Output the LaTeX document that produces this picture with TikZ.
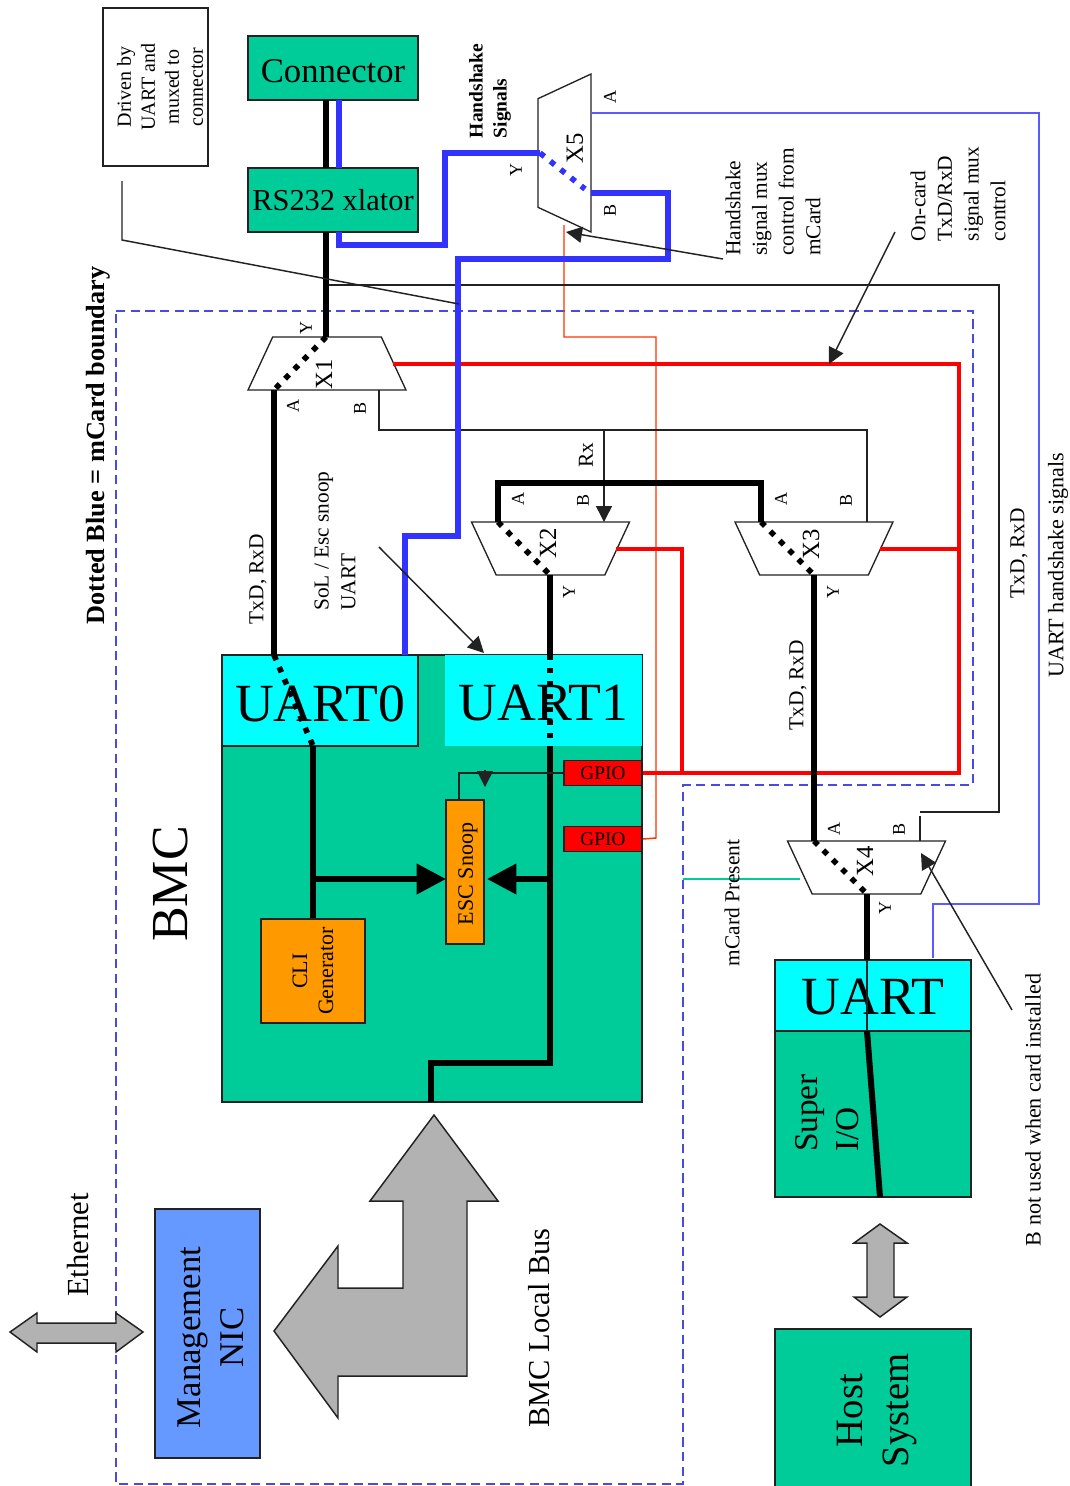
\documentclass[tikz,border=0pt]{standalone}
\usepackage{fontspec}
\setmainfont{Liberation Serif}
\usetikzlibrary{arrows.meta,shapes.geometric}
\definecolor{bmcgreen}{HTML}{00CC99}
\definecolor{cliorange}{HTML}{FF9900}
\definecolor{nicblue}{HTML}{6699FF}
\definecolor{uartcyan}{HTML}{00FFFF}
\definecolor{busblue}{HTML}{3333FF}
\definecolor{thinblue}{HTML}{5A5AFF}
\definecolor{edgeblue}{HTML}{4A4ADD}
\definecolor{thinred}{HTML}{FF3300}
\definecolor{shapegray}{HTML}{B2B2B2}
\definecolor{edgeline}{HTML}{222222}
\newcommand{\lowered}[2]{\raisebox{-#1}[\height][\depth]{#2}}
\tikzset{
  boxsize/.code 2 args={\pgfkeysalso{minimum width=#1*0.75pt, minimum height=#2*0.75pt}},
  rotsize/.code 2 args={\pgfkeysalso{rotate=90, minimum width=#2*0.75pt, minimum height=#1*0.75pt}}
}
\begin{document}
\begin{tikzpicture}[
  x=0.75pt, y=-0.75pt,
  box/.style={draw=edgeline, line width=1.1pt, inner sep=0pt, align=center},
  grn/.style={box, fill=bmcgreen},
  uartbox/.style={box, fill=uartcyan, font=\fontsize{40.3}{44}\selectfont},
  orng/.style={box, fill=cliorange, font=\fontsize{16.5}{19.5}\selectfont},
  gpiobox/.style={box, fill=red, font=\fontsize{14.5}{16}\selectfont},
  mux/.style={trapezium, draw=edgeline, line width=1pt, inner sep=0pt,
              trapezium left angle=63.4, trapezium right angle=63.4,
              trapezium stretches=true, minimum width=158*0.75pt, minimum height=53*0.75pt},
  lab/.style={rotate=90, align=center, inner sep=0pt, font=\fontsize{16}{20}\selectfont},
  lableft/.style={lab, align=left},
  pin/.style={rotate=90, inner sep=0pt, font=\fontsize{13.5}{15}\selectfont},
  muxname/.style={rotate=90, inner sep=0pt, font=\fontsize{18.5}{20}\selectfont},
  big/.style={rotate=90, align=center, inner sep=0pt},
  bk/.style={line width=4.5pt, black},
  dots/.style={line width=4.2pt, dash pattern=on 4.2pt off 5.7pt},
  bl/.style={line width=4.2pt, busblue},
  rd/.style={line width=2.7pt, red},
  thinln/.style={line width=1.1pt, edgeline},
  arr/.style={thinln, -{Triangle[length=12pt,width=12pt]}},
  bigarr/.style={bk, -{Triangle[length=22pt,width=22pt]}},
  block/.style={draw=edgeline, line width=1.1pt, fill=shapegray}
]
\path[use as bounding box, clip] (0,0) rectangle (1070,1486);

\draw[edgeblue, line width=1.1pt, dashed, dash pattern=on 7pt off 4pt]
  (116,311) -- (973,311) -- (973,785) -- (683,785) -- (683,1484) -- (116,1484) -- cycle;

\node[grn, boxsize={170}{64}, font=\fontsize{26}{28}\selectfont] (conn) at (333,68) {\lowered{2.2pt}{Connector}};
\node[grn, boxsize={170}{64}, font=\fontsize{22.8}{26}\selectfont] (xlat) at (333,200) {RS232 xlator};
\node[box, rotsize={105}{158}] (drv) at (155.5,87) {};
\node[big, font=\fontsize{15}{18}\selectfont] (drvt) at (160,87) {Driven by\\UART and\\muxed to\\connector};

\node[grn, boxsize={420}{447}] (bmc) at (432,878.5) {};
\node[uartbox, boxsize={196}{91}] (uart0) at (320,700.5) {\lowered{2.2pt}{UART0}};
\node[uartbox, draw=none, boxsize={197}{91}] (uart1) at (543.5,700.5) {\lowered{2.2pt}{UART1}};
\node[gpiobox, boxsize={78}{25}] (gpioa) at (603,773) {GPIO};
\node[gpiobox, boxsize={78}{25}] (gpiob) at (603,839) {GPIO};
\node[orng, rotsize={38}{144}] (esc) at (465,872) {\kern-3pt\lowered{2.2pt}{ESC Snoop}};
\node[orng, rotsize={104}{104}] (cli) at (313,971) {CLI\\Generator};

\node[uartbox, boxsize={196}{71}] (uart2) at (873,995.5) {\lowered{1.5pt}{UART}};
\node[grn, rotsize={196}{166}] (sio) at (873,1114) {};
\node[big, align=left, font=\fontsize{25}{31}\selectfont] (siot) at (827,1113) {Super\\I/O};
\node[grn, rotsize={196}{161}] (host) at (873,1409.5) {};
\node[big, font=\fontsize{29}{35}\selectfont] (hostt) at (877,1410.5) {Host\\System};
\node[box, fill=nicblue, rotsize={105}{249}] (nic) at (207.5,1333.5) {};
\node[big, font=\fontsize{26}{32}\selectfont] (nict) at (210.5,1337.5) {Management\\NIC};

\node[mux] (x1) at (327,363.5) {\phantom{XX}};
\node[mux, rotate=180] (x2) at (550.5,548.5) {\phantom{XX}};
\node[mux, rotate=180] (x3) at (814,548.5) {\phantom{XX}};
\node[mux, rotate=180] (x4) at (866.5,867.5) {\phantom{XX}};
\node[mux, rotate=90] (x5) at (564.5,153) {\phantom{XX}};

\coordinate (connk) at (326,100);
\coordinate (xlatk) at (326,168);
\coordinate (connb) at (339,100);
\coordinate (xlatb) at (339,168);
\coordinate (xlatkb) at (326,232);
\coordinate (xlatbb) at (339,232);
\coordinate (x1y) at (326,337);
\coordinate (x1a) at (274,390);
\coordinate (x1b) at (379,390);
\coordinate (x1s) at (393,364);
\coordinate (x2a) at (498,522);
\coordinate (x2b) at (604,522);
\coordinate (x2y) at (550,575);
\coordinate (x2s) at (616,549);
\coordinate (x3a) at (761,522);
\coordinate (x3b) at (867,522);
\coordinate (x3y) at (814,575);
\coordinate (x3s) at (880,549);
\coordinate (x4a) at (814,841);
\coordinate (x4b) at (920,841);
\coordinate (x4y) at (867,894);
\coordinate (x4s) at (800,879);
\coordinate (x5y) at (540,153);
\coordinate (x5b) at (591,193);
\coordinate (x5a) at (591,113);
\coordinate (x5d) at (585,189);
\coordinate (x5s) at (564,225);
\coordinate (rxj) at (604,430);
\coordinate (u0a) at (274,655);
\coordinate (u0b) at (313,746);
\coordinate (u0hs) at (405,655);
\coordinate (u1a) at (550,655);
\coordinate (u1b) at (550,746);
\coordinate (u2a) at (867,960);
\coordinate (u2b) at (867,1031);
\coordinate (u2hs) at (933,958);
\coordinate (sioend) at (880,1197);
\coordinate (busj) at (431,1102);
\coordinate (jl) at (313,879);
\coordinate (jr) at (550,879);
\coordinate (escl) at (446,879);
\coordinate (escr) at (487,879);
\coordinate (escm) at (485,770);
\coordinate (esct) at (459,800);
\coordinate (escn) at (485,787);
\coordinate (stubx) at (920,816);
\coordinate (stubt) at (920,812);
\coordinate (stubl) at (329,285);
\coordinate (pres) at (683,879);
\coordinate (drvs) at (122,181);
\coordinate (drve) at (459,304);
\coordinate (hss) at (723,259);
\coordinate (hse) at (566,232);
\coordinate (ocs) at (895,232);
\coordinate (oce) at (829,364);
\coordinate (sols) at (379,547);
\coordinate (sole) at (484,653);
\coordinate (bns) at (1012,1010);
\coordinate (bne) at (921,853);

\draw[thinred, line width=1.1pt] (x5s) -- (564,337) -- (656,337) -- (656,838) -- (gpiob.east);
\draw[thinln] (x1b) -- (379,430) -- (867,430) -- (x3b);
\draw[arr] (rxj) -- (x2b);
\draw[thinln] (x4b) -- (stubx);
\draw[thinln] (stubt) -- (999,812) -- (999,285) -- (stubl);
\draw[thinblue, line width=1.1pt] (x5a) -- (1039,113) -- (1039,904) -- (933,904) -- (u2hs);
\draw[bmcgreen, line width=1.6pt] (pres) -- (x4s);

\draw[rd] (x1s) -- (959,364) -- (959,773) -- (gpioa.east);
\draw[rd] (x3s) -- (959,549);
\draw[rd] (x2s) -- (682,549) -- (682,773);

\draw[bl] (connb) -- (xlatb);
\draw[bl] (xlatbb) -- (339,245) -- (445,245) -- (445,153) -- (x5y);
\draw[bl] (u0hs) -- (405,536) -- (458,536) -- (458,259) -- (668,259) -- (668,193) -- (x5b);
\draw[busblue, dots] (x5y) -- (x5d);

\draw[bk] (connk) -- (xlatk);
\draw[bk] (xlatkb) -- (x1y);
\draw[dots] (x1y) -- (x1a);
\draw[bk] (x1a) -- (u0a);
\draw[dots] (u0a) -- (u0b);
\draw[bk] (u0b) -- (cli.east);
\draw[bk] (x2a) -- (498,483) -- (761,483) -- (x3a);
\draw[dots] (x2a) -- (x2y);
\draw[dots] (x3a) -- (x3y);
\draw[bk] (x2y) -- (u1a);
\draw[line width=4.5pt, dash pattern=on 4pt off 5.75pt] (u1a) -- (u1b);
\draw[bk] (u1b) -- (550,1063) -- (431,1063) -- (busj);
\draw[bk] (x3y) -- (x4a);
\draw[dots] (x4a) -- (x4y);
\draw[bk] (x4y) -- (u2a);
\draw[thinln] (u2a) -- (u2b);
\draw[bk] (u2b) -- (sioend);
\draw[bigarr] (jl) -- (escl);
\draw[bigarr] (jr) -- (escr);

\draw[thinln] (gpioa.west) -- (459,773) -- (esct);
\draw[arr] (escm) -- (escn);
\draw[thinln] (drvs) -- (122,240) -- (drve);
\draw[arr] (hss) -- (hse);
\draw[arr] (ocs) -- (oce);
\draw[arr] (sols) -- (sole);
\draw[arr] (bns) -- (bne);

\draw[block] (10,1332) -- (37,1313) -- (37,1323) -- (116,1323) -- (116,1313) -- (143,1332)
  -- (116,1352) -- (116,1343) -- (37,1343) -- (37,1352) -- cycle;
\draw[block] (434,1115) -- (498,1201) -- (467,1201) -- (467,1376) -- (338,1376) -- (338,1418)
  -- (274,1331) -- (338,1246) -- (338,1288) -- (403,1288) -- (403,1201) -- (370,1201) -- cycle;
\draw[block] (880,1224) -- (907,1243) -- (894,1243) -- (894,1297) -- (907,1297) -- (880,1317)
  -- (854,1297) -- (867,1297) -- (867,1243) -- (854,1243) -- cycle;

\node[big, font=\fontsize{39}{44}\selectfont] (bmct) at (171,884) {BMC};
\node[big, font=\bfseries\fontsize{19.7}{22}\selectfont] (bound) at (98,445.5) {Dotted Blue = mCard boundary};
\node[big, align=left, font=\bfseries\fontsize{14.6}{18}\selectfont] (hst) at (490,91) {Handshake\\Signals};
\node[big, font=\fontsize{23}{26}\selectfont] (eth) at (78,1245) {Ethernet};
\node[big, font=\fontsize{22.8}{26}\selectfont] (lbus) at (539,1328) {BMC Local Bus};

\node[lab] (txa) at (258,579) {TxD, RxD};
\node[lableft] (sol) at (335,541) {SoL / Esc snoop\\UART};
\node[lab] (rxt) at (586,455) {Rx};
\node[lab] (txb) at (798,685) {TxD, RxD};
\node[lab] (txc) at (1019,553) {TxD, RxD};
\node[lab, font=\fontsize{16.6}{20}\selectfont] (uhst) at (1058,565) {UART handshake signals};
\node[lab] (mcp) at (732,903) {mCard Present};
\node[lab, font=\fontsize{16.6}{20}\selectfont] (bnt) at (1033,1110) {B not used when card installed};
\node[lableft] (hsc) at (773,202) {Handshake\\signal mux\\control from\\mCard};
\node[lableft] (occ) at (958,194) {On-card\\TxD/RxD\\signal mux\\control};

\node[muxname] (x1t) at (324,374) {X1};
\node[muxname] (x2t) at (548,543) {X2};
\node[muxname] (x3t) at (811,544) {X3};
\node[muxname] (x4t) at (865,861) {X4};
\node[muxname] (x5t) at (575,148) {X5};

\node[pin] (x1pa) at (293,406) {A};
\node[pin] (x1pb) at (360,408) {B};
\node[pin] (x1py) at (306,328) {Y};
\node[pin] (x2pa) at (518,499) {A};
\node[pin] (x2pb) at (583,500) {B};
\node[pin] (x2py) at (569,592) {Y};
\node[pin] (x3pa) at (781,499) {A};
\node[pin] (x3pb) at (846,500) {B};
\node[pin] (x3py) at (833,592) {Y};
\node[pin] (x4pa) at (834,829) {A};
\node[pin] (x4pb) at (899,829) {B};
\node[pin] (x4py) at (885,908) {Y};
\node[pin] (x5pa) at (610,97) {A};
\node[pin] (x5pb) at (610,210) {B};
\node[pin] (x5py) at (516,170) {Y};
\end{tikzpicture}
\end{document}
